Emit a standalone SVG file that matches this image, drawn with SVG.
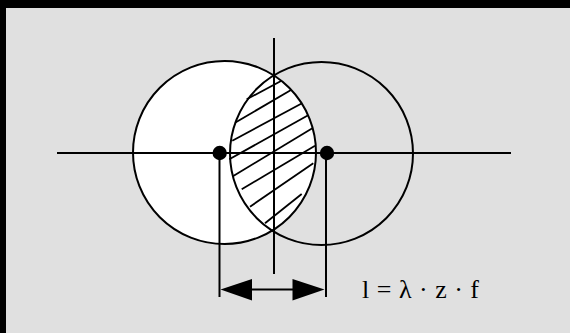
<svg xmlns="http://www.w3.org/2000/svg" width="570" height="333" viewBox="0 0 570 333">
  <style>
    .ln { stroke: #000; stroke-width: 2; fill: none; }
    .ln-white { stroke: #000; stroke-width: 2; fill: #fff; }
    .hatch { stroke: #000; stroke-width: 1.8; fill: none; stroke-linecap: butt; }
    .dot { fill: #000; }
    .lbl { font-family: "Liberation Serif", "Times New Roman", serif; font-size: 26px; fill: #000; }
  </style>
  <defs>
    <clipPath id="lens">
      <circle cx="224.5" cy="152.5" r="91.5"/>
    </clipPath>
  </defs>
  <rect x="0" y="0" width="570" height="333" fill="#000"/>
  <rect x="6" y="8" width="564" height="325" fill="#e0e0e0"/>

  <g id="circle-left">
    <circle cx="224.5" cy="152.5" r="91.5" class="ln-white"/>
  </g>
  <g id="lens-hatch" clip-path="url(#lens)">
    <line class="hatch" x1="246.7" y1="99.3" x2="281" y2="81"/>
    <line class="hatch" x1="235" y1="122.7" x2="291" y2="90"/>
    <line class="hatch" x1="232.3" y1="140.7" x2="306.7" y2="100.7"/>
    <line class="hatch" x1="229.3" y1="159.3" x2="311.7" y2="113.3"/>
    <line class="hatch" x1="233.3" y1="176" x2="314" y2="127.3"/>
    <line class="hatch" x1="241.7" y1="189.3" x2="315" y2="145.7"/>
    <line class="hatch" x1="250" y1="206.7" x2="313.3" y2="163.3"/>
    <line class="hatch" x1="265" y1="223.3" x2="301.7" y2="194"/>
  </g>
  <g id="circle-right">
    <circle cx="321.5" cy="153.5" r="91.5" class="ln"/>
  </g>

  <g id="connectors">
    <line class="ln" x1="57" y1="153" x2="511" y2="153"/>
    <line class="ln" x1="274" y1="38" x2="274" y2="274"/>
    <line class="ln" x1="219.5" y1="153" x2="219.5" y2="297"/>
    <line class="ln" x1="326" y1="153" x2="326" y2="297"/>
    <line class="ln" x1="250" y1="289.5" x2="294" y2="289.5"/>
    <polygon class="dot" points="220.5,289.5 252,279 252,300.5"/>
    <polygon class="dot" points="324.5,289.5 292.5,279 292.5,300.5"/>
  </g>

  <g id="dot-left">
    <circle class="dot" cx="219.7" cy="153" r="7.2"/>
  </g>
  <g id="dot-right">
    <circle class="dot" cx="327" cy="153" r="7.2"/>
  </g>

  <g id="label">
    <text class="lbl" x="362" y="298.3" word-spacing="1">l = λ · z · f</text>
  </g>
</svg>
